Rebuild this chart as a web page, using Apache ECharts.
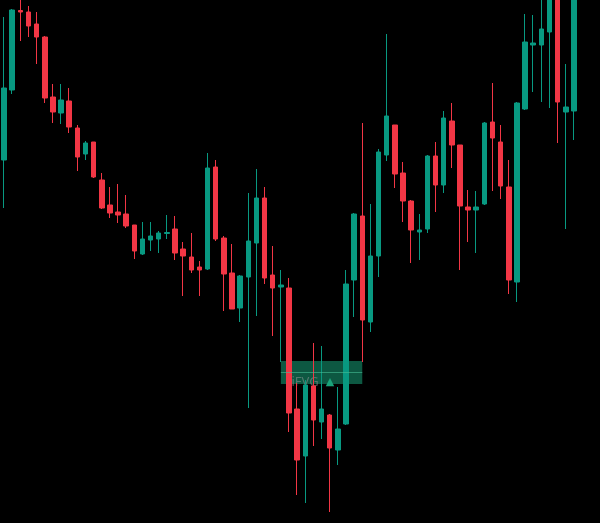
<!DOCTYPE html>
<html>
<head>
<meta charset="utf-8">
<script src="https://cdn.jsdelivr.net/npm/echarts@6/dist/echarts.min.js"></script>
<style>
html,body{margin:0;padding:0;background:#000;}
#c{width:600px;height:523px;}
</style>
</head>
<body>
<div id="c"></div>
<script>
// Candle values (price units)
const opens  = [363,433,512.5,511,499,486,426,410,422,395,369,381,343,318,311,309,298,269,283,284,289.5,294,274,266,256,254,356,285,250,215,246,280,325,248,236,235,114,67,137,101,108,73,99,243,307,201,267,368,398,350,322,291,294,367,338,402,378,316,313,319,401,381,336,241,414,478,478,491,533,411,412];
const closes = [435,513,511,497,486,425,411,423,396,366,380,346,315,310,308,297,272,284,287,290,290.5,270,267,253,253,355,284,249,214,247,282,325,245,235,238,110,63,138,103,114,75,94,239,309,203,267,371,407,349,322,293,293,367,338,405,378,317,313,316,400,385,337,243,420,481,480,494,538,421,416,543];
const lows   = [315,429,482,486,459,420,400,399,390,352,363,345,314,305,300,295,264,268,272,270,284,263,227,250,227,253,282,212,214,201,115,207,239,187,161,91,28,20,77,84,11,58,98,206,161,191,246,362,335,301,260,263,290,311,330,355,253,281,270,318,332,324,229,221,413,431,421,415,380,294,383];
const highs  = [506,514,526,517,511,487,439,439,435,398,382,381,350,336,339,328,298,301,301,292,308,307,281,290,262,370,363,287,279,248,330,354,336,277,253,245,140,143,180,177,109,136,253,310,400,319,374,489,398,361,323,309,368,381,412,420,378,333,332,401,440,398,363,421,509,508,528,548,543,459,553];
const categories = opens.map((_, i) => String(i + 1));

// iFVG zone: candle index span and price band
const zoneStart = 34, zoneEnd = 44;
const zoneTop = 162, zoneBottom = 139, zoneMid = 150.5;
const zoneLabel = 'iFVG';

const candleData = opens.map((o, i) => [o, closes[i], lows[i], highs[i]]);

const chart = echarts.init(document.getElementById('c'), null, {renderer: 'canvas'});
chart.setOption({
  backgroundColor: '#000000',
  animation: false,
  grid: {left: -1.5, right: 22, top: 0, bottom: 0},
  xAxis: {
    type: 'category',
    data: categories,
    show: false,
    boundaryGap: true
  },
  yAxis: {
    type: 'value',
    min: 0,
    max: 523,
    show: false,
    splitLine: {show: false}
  },
  series: [
    {
      type: 'candlestick',
      data: candleData,
      barWidth: 5,
      itemStyle: {
        color: '#089981',
        color0: '#f23645',
        borderColor: '#089981',
        borderColor0: '#f23645',
        borderWidth: 1
      },
      z: 2
    },
    {
      type: 'line',
      data: [],
      z: 5,
      markArea: {
        silent: true,
        itemStyle: {color: 'rgba(24,160,120,0.55)'},
        label: {
          show: true,
          position: ['13%', '94%'],
          align: 'left',
          verticalAlign: 'middle',
          formatter: '{a|' + zoneLabel + '}{s| }{b|▲}',
          rich: {
            a: {color: 'rgba(140,150,148,0.55)', fontSize: 13, fontFamily: 'Noto Sans'},
            s: {width: 7, fontSize: 10},
            b: {color: '#1aa37a', fontSize: 11, fontFamily: 'DejaVu Sans'}
          }
        },
        data: [[
          {coord: [zoneStart, zoneTop]},
          {coord: [zoneEnd, zoneBottom]}
        ]]
      },
      markLine: {
        silent: true,
        symbol: ['none', 'none'],
        label: {show: false},
        lineStyle: {color: 'rgba(70,190,150,0.6)', width: 1, type: 'solid'},
        data: [[
          {coord: [zoneStart, zoneMid]},
          {coord: [zoneEnd, zoneMid]}
        ]]
      }
    }
  ]
});
</script>
</body>
</html>
